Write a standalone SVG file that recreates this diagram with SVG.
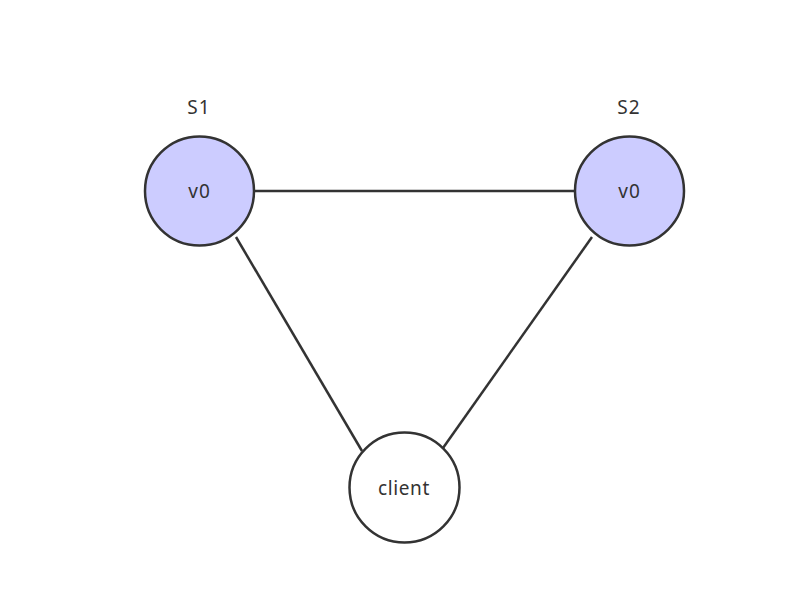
<svg xmlns="http://www.w3.org/2000/svg" width="806" height="594" viewBox="0 0 806 594">
<style>
.node{stroke:#333;stroke-width:2.5}
.srv{fill:#ccccff}
.cli{fill:#ffffff}
.lbl{font-family:"Noto Sans","Open Sans","Liberation Sans",sans-serif;fill:#333;text-anchor:middle;font-size:19px}
.edge{stroke:#333;stroke-width:2.5;fill:none}
</style>
<rect width="806" height="594" fill="#ffffff"/>
<g id="connectors">
<line class="edge" x1="254" y1="191" x2="575" y2="191"/>
<line class="edge" x1="236" y1="237" x2="362" y2="451"/>
<line class="edge" x1="592" y1="237" x2="443" y2="448"/>
</g>
<g id="s1">
<text class="lbl" x="199" y="114" letter-spacing="1">S1</text>
<circle class="node srv" cx="199.5" cy="191" r="54.5"/>
<text class="lbl" x="199.5" y="198" letter-spacing="1">v0</text>
</g>
<g id="s2">
<text class="lbl" x="629" y="114" letter-spacing="1">S2</text>
<circle class="node srv" cx="629.5" cy="191" r="54.5"/>
<text class="lbl" x="629.5" y="198" letter-spacing="1">v0</text>
</g>
<g id="client">
<circle class="node cli" cx="404.5" cy="487.5" r="55"/>
<text class="lbl" x="404" y="495" letter-spacing="0.6">client</text>
</g>
</svg>
